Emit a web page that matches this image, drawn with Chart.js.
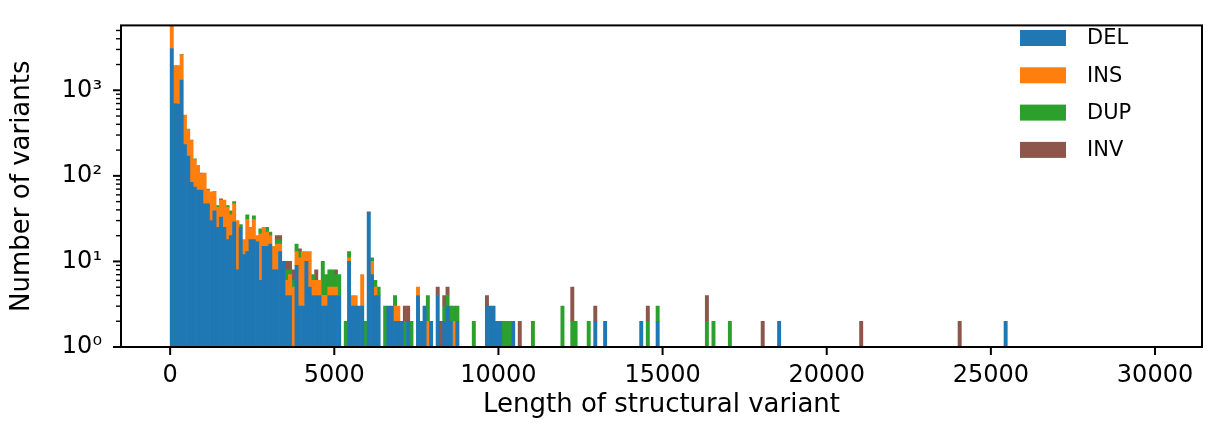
<!DOCTYPE html>
<html>
<head>
<meta charset="utf-8">
<script src="https://cdn.jsdelivr.net/npm/chart.js@4.4.1/dist/chart.umd.min.js"></script>
<style>
  html, body { margin: 0; padding: 0; background: #fff; }
  #wrap { width: 1208px; height: 434px; }
</style>
</head>
<body>
<div id="wrap"><canvas id="svChart" width="1208" height="434"></canvas></div>
<script>
// histogram of SV lengths, 100 bp bins from 0 to 30000
const binWidth = 100;

const DEL = [
  3080, 700, 690, 1320, 232, 170, 84, 74, 68, 68, 47, 47, 30, 39, 25, 33, 25, 18, 20, 29,   // 0-19
  8, 25, 12, 13, 18, 18, 17, 6, 15, 15, 16, 8, 8, 13, 10, 4, 4, 0, 9, 3,                   // 20-39
  3, 10, 5, 4, 4, 4, 3, 3, 4, 4, 4, 4, 0, 0, 10, 3, 3, 3, 3, 0,                             // 40-59
  37, 7, 4, 4, 0, 1, 3, 3, 2, 2, 2, 0, 2, 0, 0, 4, 2, 3, 0, 2,                              // 60-79
  0, 4, 0, 2, 3, 2, 0, 2, 0, 0, 0, 0, 0, 0, 0, 0, 3, 3, 3, 2,                               // 80-99
  2, 0, 0, 0, 2, 0, 0, 0, 0, 0, 0, 0, 0, 0, 0, 0, 0, 0, 0, 0,                               // 100-119
  0, 0, 0, 0, 0, 0, 0, 0, 0, 2, 0, 0, 2, 0, 0, 0, 0, 0, 0, 0,                               // 120-139
  0, 0, 0, 2, 0, 0, 0, 0, 2, 0, 0, 0, 0, 0, 0, 0, 0, 0, 0, 0,                               // 140-159
  0, 0, 0, 0, 0, 0, 0, 0, 0, 0, 0, 0, 0, 0, 0, 0, 0, 0, 0, 0,                               // 160-179
  0, 0, 0, 0, 0, 2, 0, 0, 0, 0, 0, 0, 0, 0, 0, 0, 0, 0, 0, 0,                               // 180-199
  0, 0, 0, 0, 0, 0, 0, 0, 0, 0, 0, 0, 0, 0, 0, 0, 0, 0, 0, 0,                               // 200-219
  0, 0, 0, 0, 0, 0, 0, 0, 0, 0, 0, 0, 0, 0, 0, 0, 0, 0, 0, 0,                               // 220-239
  0, 0, 0, 0, 0, 0, 0, 0, 0, 0, 0, 0, 0, 0, 2, 0, 0, 0, 0, 0,                               // 240-259
  0, 0, 0, 0, 0, 0, 0, 0, 0, 0, 0, 0, 0, 0, 0, 0, 0, 0, 0, 0,                               // 260-279
  0, 0, 0, 0, 0, 0, 0, 0, 0, 0, 0, 0, 0, 0, 0, 0, 0, 0, 0, 1                                // 280-299
];

const INS = [
  3000, 1230, 1240, 1280, 281, 180, 175, 82, 65, 38, 61, 21, 35, 27, 18, 19, 27, 25, 15, 18, // 0-19
  22, 0, 6, 18, 7, 13, 3, 15, 10, 7, 4, 7, 8, 3, 0, 2, 3, 5, 4, 8,                          // 20-39
  10, 3, 8, 2, 2, 2, 1, 1, 1, 1, 1, 0, 0, 0, 1, 1, 1, 0, 4, 0,                              // 40-59
  0, 3, 1, 0, 0, 0, 0, 0, 1, 1, 0, 0, 0, 0, 0, 1, 0, 0, 2, 0,                               // 60-79
  0, 0, 0, 0, 0, 0, 2, 0, 0, 0, 0, 0, 0, 0, 0, 0, 0, 0, 0, 0                                // 80-99
];

const DUP = [
  4, 3, 2, 2, 0, 1, 0, 2, 0, 0, 0, 2, 0, 0, 2, 0, 0, 2, 4, 3,                               // 0-19
  0, 2, 0, 4, 0, 3, 0, 3, 0, 3, 2, 0, 2, 2, 0, 2, 1, 1, 3, 2,                               // 20-39
  0, 0, 0, 1, 0, 0, 6, 3, 3, 3, 2, 3, 0, 2, 2, 0, 0, 0, 0, 2,                               // 40-59
  0, 1, 1, 1, 0, 2, 0, 0, 1, 0, 0, 2, 0, 2, 0, 0, 0, 0, 2, 0,                               // 60-79
  0, 0, 0, 1, 1, 1, 1, 1, 0, 0, 0, 0, 2, 0, 0, 0, 0, 0, 0, 0,                               // 80-99
  0, 2, 2, 2, 0, 0, 0, 0, 0, 0, 2, 0, 0, 0, 0, 0, 0, 0, 0, 3,                               // 100-119
  0, 0, 2, 2, 0, 0, 0, 2, 0, 0, 0, 0, 0, 0, 0, 0, 0, 0, 0, 0,                               // 120-139
  0, 0, 0, 0, 0, 2, 0, 0, 1, 0, 0, 0, 0, 0, 0, 0, 0, 0, 0, 0,                               // 140-159
  0, 0, 0, 2, 0, 2, 0, 0, 0, 0, 2, 0, 0, 0, 0, 0, 0, 0, 0, 0                                // 160-179
];

const INV = [
  2, 0, 0, 1, 0, 0, 3, 0, 0, 2, 0, 0, 0, 0, 0, 2, 0, 0, 0, 0,                               // 0-19
  0, 0, 0, 0, 0, 0, 0, 0, 0, 0, 0, 0, 2, 2, 0, 2, 2, 2, 0, 1,                               // 20-39
  0, 0, 0, 0, 2, 0, 0, 0, 0, 0, 1, 0, 0, 0, 0, 0, 0, 0, 0, 0,                               // 40-59
  1, 0, 0, 0, 0, 0, 0, 0, 0, 0, 0, 1, 1, 0, 0, 0, 0, 0, 0, 0,                               // 60-79
  0, 1, 2, 1, 1, 0, 0, 0, 0, 0, 0, 0, 0, 0, 0, 0, 1, 0, 0, 0,                               // 80-99
  0, 0, 0, 0, 0, 0, 2, 0, 0, 0, 0, 0, 0, 0, 0, 0, 0, 0, 0, 0,                               // 100-119
  0, 0, 3, 0, 0, 0, 0, 0, 0, 1, 0, 0, 0, 0, 0, 0, 0, 0, 0, 0,                               // 120-139
  0, 0, 0, 0, 0, 1, 0, 0, 0, 0, 0, 0, 0, 0, 0, 0, 0, 0, 0, 0,                               // 140-159
  0, 0, 0, 2, 0, 0, 0, 0, 0, 0, 0, 0, 0, 0, 0, 0, 0, 0, 0, 0,                               // 160-179
  2, 0, 0, 0, 0, 0, 0, 0, 0, 0, 0, 0, 0, 0, 0, 0, 0, 0, 0, 0,                               // 180-199
  0, 0, 0, 0, 0, 0, 0, 0, 0, 0, 2, 0, 0, 0, 0, 0, 0, 0, 0, 0,                               // 200-219
  0, 0, 0, 0, 0, 0, 0, 0, 0, 0, 0, 0, 0, 0, 0, 0, 0, 0, 0, 0,                               // 220-239
  2, 0, 0, 0, 0, 0, 0, 0, 0, 0, 0, 0, 0, 0, 0, 0, 0, 0, 0, 0                                // 240-259
];

const seriesNames = ["DEL", "INS", "DUP", "INV"];
const seriesColors = ["#1f77b4", "#ff7f0e", "#2ca02c", "#8c564b"];
const xTickValues = [0, 5000, 10000, 15000, 20000, 25000, 30000];
const yTickValues = [1, 2, 3, 4, 5, 6, 7, 8, 9,
  10, 20, 30, 40, 50, 60, 70, 80, 90,
  100, 200, 300, 400, 500, 600, 700, 800, 900,
  1000, 2000, 3000, 4000, 5000];
const supers = { 1: "10\u2070", 10: "10\u00b9", 100: "10\u00b2", 1000: "10\u00b3" };

const FONT = "'DejaVu Sans', sans-serif";
const binCenters = DEL.map((_, i) => i * binWidth + binWidth / 2);

function toPoints(counts) {
  return binCenters.map((c, i) => ({ x: c, y: counts[i] ? counts[i] : null }));
}

const seriesData = [DEL, INS, DUP, INV];

// matplotlib style frame, tick marks and the legend
const axisMarks = {
  id: "axisMarks",
  afterDraw(chart) {
    const { ctx, chartArea: a, scales: { x, y } } = chart;
    ctx.save();
    ctx.strokeStyle = "#000";
    ctx.lineWidth = 2;
    ctx.strokeRect(a.left, a.top, a.right - a.left, a.bottom - a.top);

    ctx.beginPath();
    x.ticks.forEach(t => {
      const px = x.getPixelForValue(t.value);
      ctx.moveTo(px, a.bottom);
      ctx.lineTo(px, a.bottom + 8);
    });
    ctx.stroke();

    y.ticks.forEach(t => {
      const major = supers[t.value] !== undefined;
      const py = y.getPixelForValue(t.value);
      ctx.lineWidth = major ? 2 : 1.4;
      ctx.beginPath();
      ctx.moveTo(a.left - (major ? 8 : 5), py);
      ctx.lineTo(a.left, py);
      ctx.stroke();
    });

    // legend, top right inside the axes, no frame
    ctx.font = "21px " + FONT;
    ctx.textBaseline = "middle";
    ctx.textAlign = "left";
    chart.data.datasets.forEach((ds, i) => {
      const cy = 38 + i * 37.3;
      ctx.fillStyle = ds.backgroundColor;
      ctx.fillRect(1020, cy - 8, 46, 16);
      ctx.fillStyle = "#000";
      ctx.fillText(ds.label, 1087, cy + 1);
    });
    ctx.restore();
  }
};

new Chart(document.getElementById("svChart"), {
  type: "bar",
  data: {
    datasets: seriesNames.map((name, i) => ({
      label: name,
      data: toPoints(seriesData[i]),
      backgroundColor: seriesColors[i],
      borderWidth: 0,
      barPercentage: 1,
      categoryPercentage: 1
    }))
  },
  options: {
    responsive: false,
    animation: false,
    events: [],
    layout: { padding: { top: 7, right: 6, left: 0, bottom: 0 } },
    plugins: { legend: { display: false }, tooltip: { enabled: false } },
    scales: {
      x: {
        type: "linear",
        stacked: true,
        offset: false,
        min: -1497,
        max: 31431,
        grid: { display: false, drawTicks: true, tickLength: 8 },
        border: { display: false },
        afterBuildTicks: s => { s.ticks = xTickValues.map(v => ({ value: v })); },
        afterFit: s => { s.height = 87; },
        ticks: {
          autoSkip: false,
          maxRotation: 0,
          padding: 6,
          color: "#000",
          font: { family: FONT, size: 24 },
          callback: v => String(v)
        },
        title: {
          display: true,
          text: "Length of structural variant",
          color: "#000",
          font: { family: FONT, size: 26 },
          padding: { top: 0, bottom: 13 }
        }
      },
      y: {
        type: "logarithmic",
        stacked: true,
        min: 1,
        max: 5730,
        grid: { display: false, drawTicks: true, tickLength: 8 },
        border: { display: false },
        afterBuildTicks: s => { s.ticks = yTickValues.map(v => ({ value: v })); },
        afterFit: s => { s.width = 121; },
        ticks: {
          autoSkip: false,
          padding: 11,
          color: "#000",
          font: { family: FONT, size: 24 },
          callback: v => supers[v] || ""
        },
        title: {
          display: true,
          text: "Number of variants",
          color: "#000",
          font: { family: FONT, size: 26 },
          padding: { top: 7, bottom: 0 }
        }
      }
    }
  },
  plugins: [axisMarks]
});
</script>
</body>
</html>
